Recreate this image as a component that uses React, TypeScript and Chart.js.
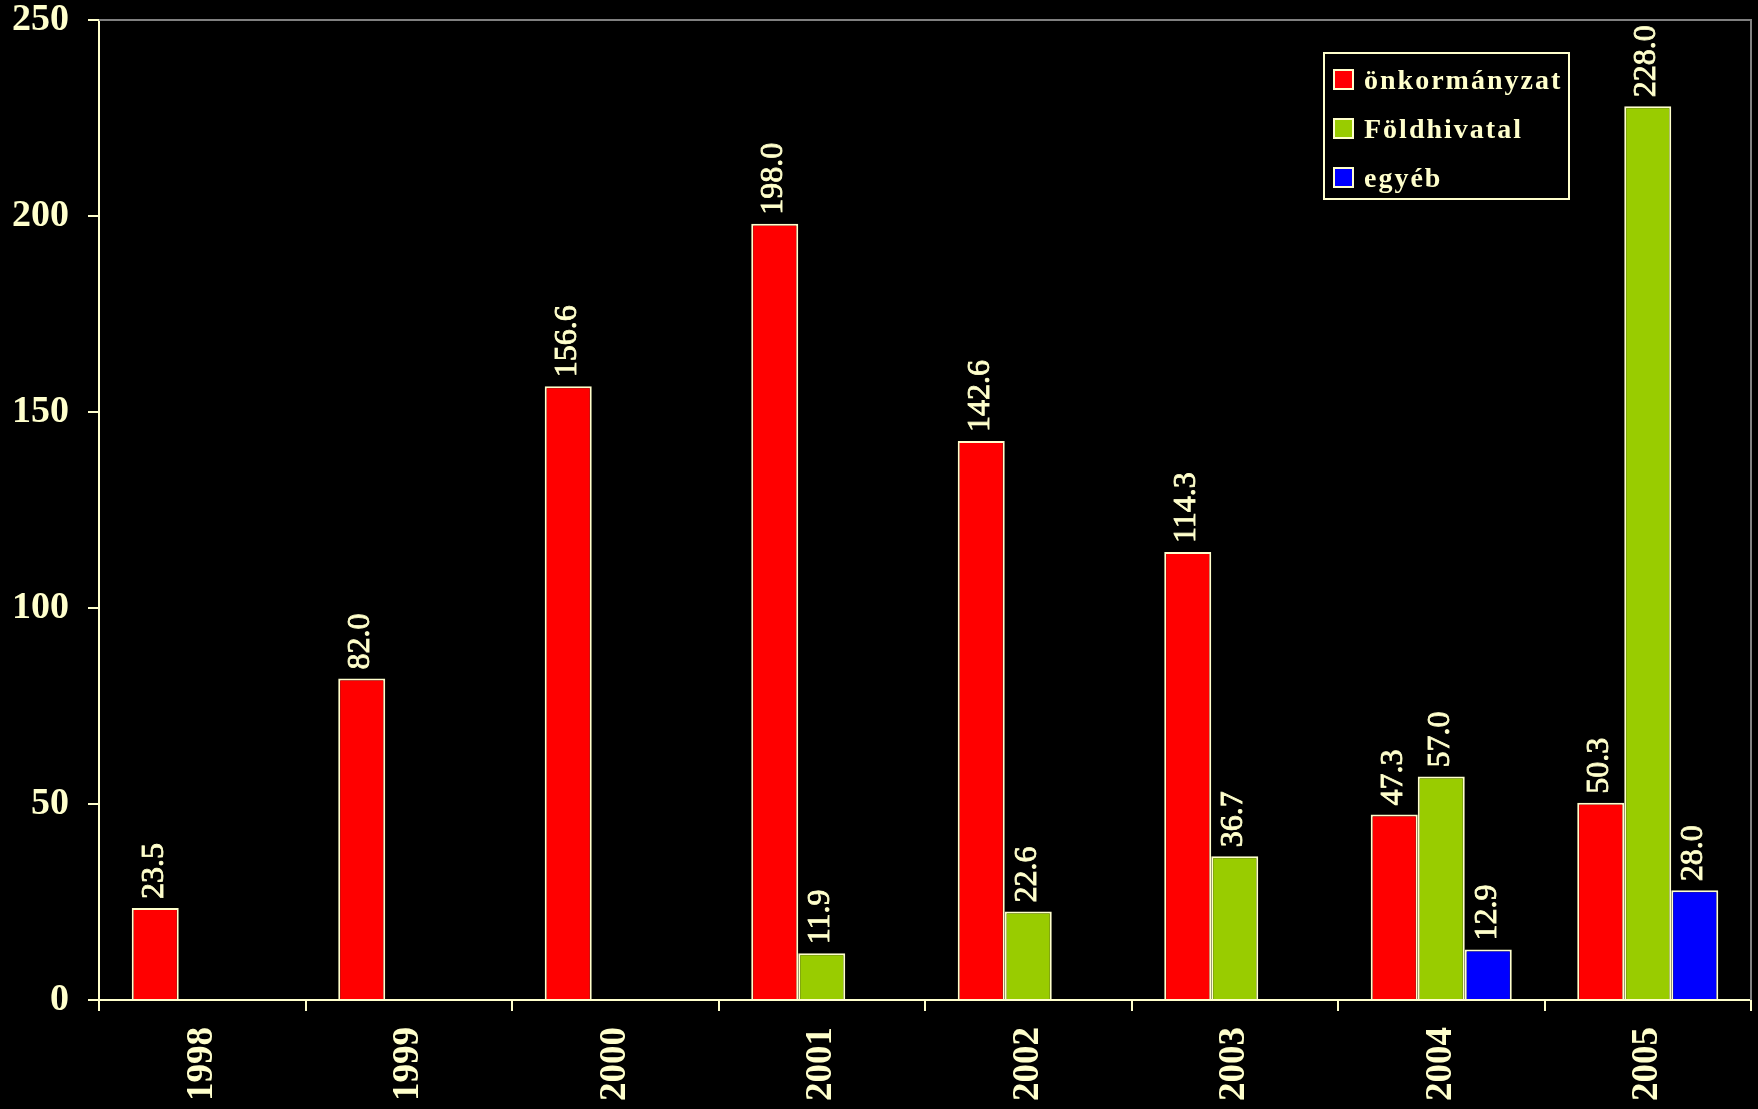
import React, { useEffect, useRef } from "react";
import { Chart, registerables } from "chart.js";

Chart.register(...registerables);

const years = ["1998", "1999", "2000", "2001", "2002", "2003", "2004", "2005"];
const seriesNames = ["önkormányzat", "Földhivatal", "egyéb"];
const onkormanyzat = [23.5, 82.0, 156.6, 198.0, 142.6, 114.3, 47.3, 50.3];
const foldhivatal = [null, null, null, 11.9, 22.6, 36.7, 57.0, 228.0];
const egyeb = [null, null, null, null, null, null, 12.9, 28.0];
const seriesColors = ["#FF0000", "#99CC00", "#0000FF"];
const yTicks = [0, 50, 100, 150, 200, 250];

const CREAM = "#FFFFCC";
const FONT = "'Liberation Serif', 'Times New Roman', serif";

const valueLabels = {
  id: "valueLabels",
  afterDatasetsDraw(chart: any) {
    const ctx = chart.ctx;
    ctx.save();
    ctx.fillStyle = CREAM;
    ctx.strokeStyle = CREAM;
    ctx.lineWidth = 0.8;
    ctx.font = `normal 32px ${FONT}`;
    ctx.textAlign = "left";
    ctx.textBaseline = "middle";
    chart.data.datasets.forEach((ds: any, di: number) => {
      const meta = chart.getDatasetMeta(di);
      meta.data.forEach((bar: any, i: number) => {
        const v = ds.data[i];
        if (v === null || v === undefined) return;
        const txt = Number(v).toFixed(1);
        ctx.save();
        ctx.translate(bar.x - 1, bar.y - 9);
        ctx.rotate(-Math.PI / 2);
        ctx.fillText(txt, 0, 0);
        ctx.strokeText(txt, 0, 0);
        ctx.restore();
      });
    });
    ctx.restore();
  },
};

const frameLines = {
  id: "frameLines",
  beforeDatasetsDraw(chart: any) {
    const { ctx, chartArea } = chart;
    ctx.save();
    ctx.strokeStyle = "#808080";
    ctx.lineWidth = 2;
    ctx.beginPath();
    ctx.moveTo(chartArea.left, chartArea.top);
    ctx.lineTo(chartArea.right, chartArea.top);
    ctx.lineTo(chartArea.right, chartArea.bottom);
    ctx.stroke();
    ctx.restore();
  },
};

export default function App() {
  const canvasRef = useRef<HTMLCanvasElement | null>(null);

  useEffect(() => {
    if (!canvasRef.current) return;
    const seriesData = [onkormanyzat, foldhivatal, egyeb];
    const chart = new Chart(canvasRef.current, {
      type: "bar",
      data: {
        labels: years,
        datasets: seriesNames.map((name, i) => ({
          label: name,
          data: seriesData[i] as any,
          backgroundColor: seriesColors[i],
          borderColor: CREAM,
          borderWidth: 2,
          borderSkipped: "bottom" as any,
          categoryPercentage: 0.683,
          barPercentage: 1.0,
        })),
      },
      options: {
        responsive: false,
        animation: false,
        maintainAspectRatio: false,
        layout: { padding: { top: 0, right: 7, left: 0, bottom: 0 } },
        plugins: {
          legend: { display: false },
          tooltip: { enabled: false },
        },
        scales: {
          x: {
            offset: true,
            grid: {
              offset: true,
              drawOnChartArea: false,
              drawTicks: true,
              tickLength: 11,
              color: CREAM,
              lineWidth: 2,
            },
            border: { display: true, color: CREAM, width: 2 },
            ticks: {
              color: CREAM,
              font: { family: FONT, size: 37, weight: "bold" },
              minRotation: 90,
              maxRotation: 90,
              padding: 16,
              autoSkip: false,
            },
            afterFit(scale: any) {
              scale.height = 109;
            },
          },
          y: {
            min: 0,
            max: 250,
            afterBuildTicks(scale: any) {
              scale.ticks = yTicks.map((v) => ({ value: v }));
            },
            grid: {
              drawOnChartArea: false,
              drawTicks: true,
              tickLength: 11,
              color: CREAM,
              lineWidth: 2,
            },
            border: { display: true, color: CREAM, width: 2 },
            ticks: {
              color: CREAM,
              font: { family: FONT, size: 38, weight: "bold" },
              padding: 19,
            },
            afterFit(scale: any) {
              scale.width = 99;
              scale.paddingTop = 20;
              scale.paddingBottom = 0;
            },
          },
        },
      },
      plugins: [frameLines, valueLabels],
    });
    return () => chart.destroy();
  }, []);

  return (
    <div
      style={{
        position: "fixed",
        left: 0,
        top: 0,
        width: 1758,
        height: 1109,
        background: "#000000",
        overflow: "hidden",
      }}
    >
      <canvas ref={canvasRef} width={1758} height={1109} style={{ display: "block" }} />
      <div
        style={{
          position: "absolute",
          left: 1323,
          top: 52,
          width: 247,
          height: 148,
          border: `2px solid ${CREAM}`,
          boxSizing: "border-box",
          background: "#000000",
        }}
      >
        {seriesNames.map((name, i) => (
          <div
            key={name}
            style={{
              position: "absolute",
              left: 8,
              top: 1 + i * 49,
              height: 49,
              display: "flex",
              alignItems: "center",
              whiteSpace: "nowrap",
            }}
          >
            <span
              style={{
                display: "inline-block",
                width: 21,
                height: 21,
                boxSizing: "border-box",
                border: `2px solid ${CREAM}`,
                background: seriesColors[i],
                marginRight: 10,
              }}
            />
            <span
              style={{
                color: CREAM,
                fontFamily: FONT,
                fontWeight: "bold",
                fontSize: 28,
                letterSpacing: 2,
                lineHeight: "49px",
              }}
            >
              {name}
            </span>
          </div>
        ))}
      </div>
    </div>
  );
}
